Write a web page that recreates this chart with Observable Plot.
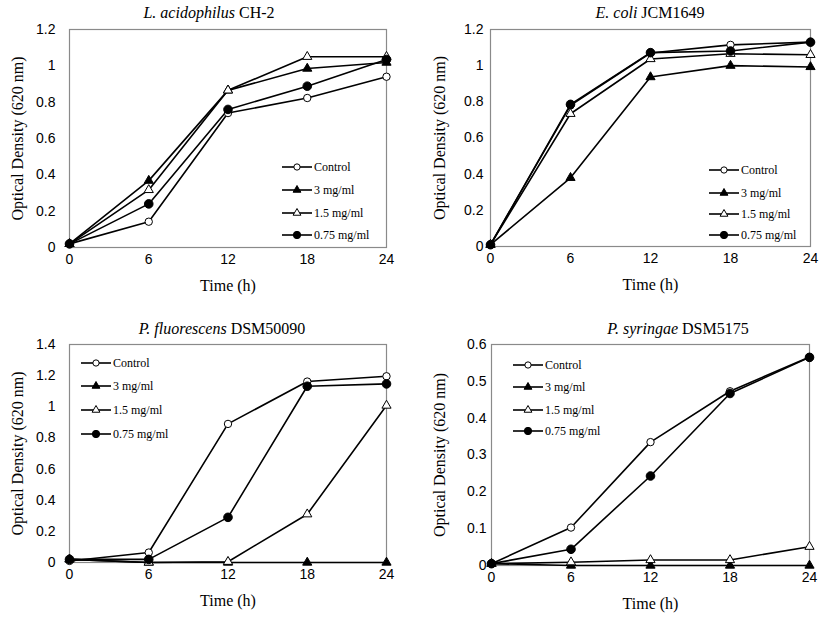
<!DOCTYPE html>
<html>
<head>
<meta charset="utf-8">
<script src="https://cdn.jsdelivr.net/npm/d3@7"></script>
<script src="https://cdn.jsdelivr.net/npm/@observablehq/plot@0.6"></script>
<style>
  html, body { margin: 0; padding: 0; background: #fff; }
  #wrap { position: relative; width: 827px; height: 625px; overflow: hidden; background: #fff; }
  .panel { position: absolute; }
  .title { position: absolute; font-family: "Liberation Serif", "Times New Roman", serif; font-size: 16px; white-space: nowrap; transform: translate(-50%, -50%); color: #000; }
</style>
</head>
<body>
<div id="wrap"></div>
<script>
// ---- data ----
const times = [0, 6, 12, 18, 24];
const series = ["Control", "3 mg/ml", "1.5 mg/ml", "0.75 mg/ml"];
const xTicks = [0, 6, 12, 18, 24];

// L. acidophilus CH-2
const lacControl = [0.02, 0.142, 0.74, 0.823, 0.94];
const lac3 = [0.02, 0.368, 0.865, 0.985, 1.018];
const lac15 = [0.02, 0.317, 0.865, 1.05, 1.05];
const lac075 = [0.02, 0.24, 0.76, 0.888, 1.035];

// E. coli JCM1649
const ecoControl = [0.01, 0.78, 1.07, 1.115, 1.13];
const eco3 = [0.01, 0.38, 0.937, 1.0, 0.993];
const eco15 = [0.01, 0.734, 1.037, 1.066, 1.06];
const eco075 = [0.01, 0.786, 1.072, 1.081, 1.13];

// P. fluorescens DSM50090
const pflControl = [0.01, 0.064, 0.89, 1.162, 1.196];
const pfl3 = [0.02, 0.0, 0.0, 0.0, 0.0];
const pfl15 = [0.02, 0.0, 0.005, 0.31, 1.008];
const pfl075 = [0.02, 0.02, 0.29, 1.132, 1.147];

// P. syringae DSM5175
const psyControl = [0.005, 0.103, 0.335, 0.473, 0.566];
const psy3 = [0.005, 0.0, 0.0, 0.0, 0.0];
const psy15 = [0.005, 0.009, 0.015, 0.015, 0.051];
const psy075 = [0.005, 0.044, 0.243, 0.467, 0.565];

const yTicks1 = [0, 0.2, 0.4, 0.6, 0.8, 1, 1.2];
const yTicks3 = [0, 0.2, 0.4, 0.6, 0.8, 1, 1.2, 1.4];
const yTicks4 = [0, 0.1, 0.2, 0.3, 0.4, 0.5, 0.6];

const styles = {
  "Control":    {symbol: "circle",   fill: "white", r: 3.7},
  "3 mg/ml":    {symbol: "triangle", fill: "black", r: 3.4},
  "1.5 mg/ml":  {symbol: "triangle", fill: "white", r: 3.4},
  "0.75 mg/ml": {symbol: "circle",   fill: "black", r: 4.3}
};

const panels = [
  {italic: "L. acidophilus", rest: "CH-2", vals: [lacControl, lac3, lac15, lac075], yDomain: [0, 1.2], yTicks: yTicks1,
   left: 0, top: 0, width: 414, height: 312, mL: 69, mR: 28, mT: 29, mB: 65, tickPad: 14, titleX: 209, titleY: 13, ylabX: 17,
   leg: {dx: 213, rows: [138, 161, 184, 206]}},
  {italic: "E. coli", rest: "JCM1649", vals: [ecoControl, eco3, eco15, eco075], yDomain: [0, 1.2], yTicks: yTicks1,
   left: 414, top: 0, width: 413, height: 312, mL: 76, mR: 17, mT: 29, mB: 66, tickPad: 7, titleX: 650, titleY: 13, ylabX: 25,
   leg: {dx: 219, rows: [141, 164, 185, 206]}},
  {italic: "P. fluorescens", rest: "DSM50090", vals: [pflControl, pfl3, pfl15, pfl075], yDomain: [0, 1.4], yTicks: yTicks3,
   left: 0, top: 312, width: 414, height: 313, mL: 69, mR: 28, mT: 32, mB: 63, tickPad: 14, titleX: 222, titleY: 329, ylabX: 17,
   leg: {dx: 12, rows: [19, 42, 66, 90]}},
  {italic: "P. syringae", rest: "DSM5175", vals: [psyControl, psy3, psy15, psy075], yDomain: [0, 0.6], yTicks: yTicks4,
   left: 414, top: 312, width: 413, height: 313, mL: 77, mR: 18, mT: 32, mB: 60, tickPad: 5, titleX: 678, titleY: 329, ylabX: 25,
   leg: {dx: 22, rows: [21, 43, 66, 87]}}
];

const wrap = document.getElementById("wrap");
const fmt = d => String(+d.toFixed(2));

for (const p of panels) {
  const rows = [];
  series.forEach((s, i) => times.forEach((t, j) => rows.push({series: s, t, v: p.vals[i][j]})));

  const marks = [
    Plot.frame({stroke: "#8a8a8a", strokeWidth: 1.2}),
    Plot.axisX({ticks: xTicks, tickSize: 0, tickPadding: 7, label: null, fontSize: 14, fontFamily: "Liberation Sans, Arial, sans-serif", fill: "#000"}),
    Plot.axisY({ticks: p.yTicks, tickSize: 0, tickPadding: p.tickPad, tickFormat: fmt, label: null, fontSize: 14, fontFamily: "Liberation Sans, Arial, sans-serif", fill: "#000"}),
    Plot.text(["Time (h)"], {frameAnchor: "bottom", dy: 43, text: d => d, textAnchor: "middle", fontSize: 16, fontFamily: "Liberation Serif, Times New Roman, serif", fill: "#000"}),
    Plot.text(["Optical Density (620 nm)"], {frameAnchor: "left", dx: -(p.mL - p.ylabX), rotate: -90, textAnchor: "middle", text: d => d, fontSize: 16, fontFamily: "Liberation Serif, Times New Roman, serif", fill: "#000"})
  ];
  for (const s of series) {
    marks.push(Plot.line(rows.filter(r => r.series === s), {x: "t", y: "v", stroke: "black", strokeWidth: 1.6}));
  }
  for (const s of series) {
    const st = styles[s];
    marks.push(Plot.dot(rows.filter(r => r.series === s), {x: "t", y: "v", symbol: st.symbol, fill: st.fill, stroke: "black", strokeWidth: 1, r: st.r}));
  }

  const chart = Plot.plot({
    width: p.width, height: p.height,
    marginLeft: p.mL, marginRight: p.mR, marginTop: p.mT, marginBottom: p.mB,
    x: {domain: [0, 24]},
    y: {domain: p.yDomain},
    style: {background: "white", overflow: "visible"},
    marks
  });
  chart.classList.add("panel");
  chart.style.left = p.left + "px";
  chart.style.top = p.top + "px";
  wrap.appendChild(chart);

  // legend
  const svg = d3.select(chart);
  const g = svg.append("g").attr("transform", `translate(${p.mL + p.leg.dx},${p.mT})`);
  series.forEach((s, i) => {
    const st = styles[s];
    const y = p.leg.rows[i];
    const row = g.append("g").attr("transform", `translate(0,${y})`);
    row.append("line").attr("x1", 0).attr("x2", 30).attr("y1", 0).attr("y2", 0).attr("stroke", "black").attr("stroke-width", 1.6);
    const sym = st.symbol === "circle" ? d3.symbolCircle : d3.symbolTriangle;
    const rr = st.r * 0.85;
    row.append("path").attr("d", d3.symbol(sym, Math.PI * rr * rr)()).attr("transform", "translate(15,0)")
      .attr("fill", st.fill).attr("stroke", "black").attr("stroke-width", 1);
    row.append("text").attr("x", 32).attr("y", 0).attr("dy", "0.35em").attr("font-size", 12)
      .attr("text-anchor", "start")
      .attr("font-family", "Liberation Serif, Times New Roman, serif").attr("fill", "#000").text(s);
  });

  const t = document.createElement("div");
  t.className = "title";
  t.style.left = p.titleX + "px";
  t.style.top = p.titleY + "px";
  t.innerHTML = `<i>${p.italic}</i> ${p.rest}`;
  wrap.appendChild(t);
}
</script>
</body>
</html>
